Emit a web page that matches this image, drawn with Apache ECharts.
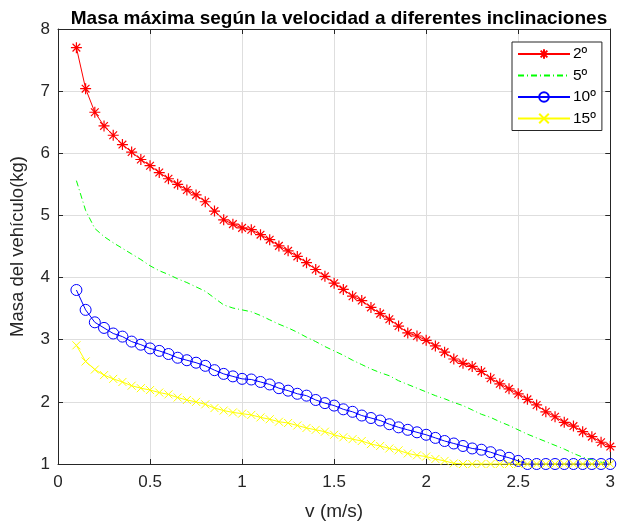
<!DOCTYPE html>
<html>
<head>
<meta charset="utf-8">
<script src="https://cdn.jsdelivr.net/npm/echarts@6/dist/echarts.min.js"></script>
<style>
html,body{margin:0;padding:0;background:#fff;}
#chart{width:618px;height:526px;}
</style>
</head>
<body>
<div id="chart"></div>
<script>
// velocities (m/s)
const velocity = [0.10,0.15,0.20,0.25,0.30,0.35,0.40,0.45,0.50,0.55,0.60,0.65,0.70,0.75,0.80,0.85,0.90,0.95,1.00,
  1.05,1.10,1.15,1.20,1.25,1.30,1.35,1.40,1.45,1.50,
  1.55,1.60,1.65,1.70,1.75,1.80,1.85,1.90,1.95,2.00,
  2.05,2.10,2.15,2.20,2.25,2.30,2.35,2.40,2.45,2.50,
  2.55,2.60,2.65,2.70,2.75,2.80,2.85,2.90,2.95,3.00];
const seriesNames = ['2º','5º','10º','15º'];
const mass2 = [7.70,7.04,6.66,6.44,6.29,6.14,6.02,5.90,5.80,5.69,5.59,5.50,5.41,5.33,5.22,5.07,4.93,4.86,4.80,
  4.77,4.69,4.61,4.51,4.43,4.34,4.24,4.13,4.02,3.91,
  3.81,3.70,3.63,3.52,3.42,3.33,3.22,3.11,3.06,2.99,
  2.90,2.80,2.69,2.62,2.57,2.49,2.38,2.29,2.21,2.13,
  2.04,1.95,1.84,1.76,1.67,1.61,1.52,1.44,1.35,1.28];
const mass5 = [5.56,5.08,4.79,4.66,4.56,4.47,4.38,4.29,4.19,4.11,4.05,3.98,3.92,3.85,3.78,3.67,3.56,3.51,3.48,
  3.45,3.39,3.32,3.25,3.19,3.12,3.04,2.97,2.89,2.82,
  2.75,2.67,2.60,2.53,2.47,2.42,2.34,2.28,2.22,2.16,
  2.10,2.05,1.99,1.94,1.87,1.80,1.75,1.68,1.62,1.55,
  1.48,1.42,1.36,1.30,1.24,1.17,1.11,1.07,1.03,1.00];
const mass10 = [3.80,3.48,3.28,3.19,3.10,3.05,2.97,2.92,2.86,2.82,2.77,2.71,2.67,2.63,2.58,2.51,2.45,2.41,2.37,
  2.36,2.32,2.28,2.22,2.18,2.13,2.10,2.03,1.98,1.94,
  1.88,1.84,1.78,1.74,1.70,1.64,1.59,1.55,1.51,1.47,
  1.42,1.37,1.33,1.29,1.25,1.23,1.19,1.14,1.10,1.05,
  1.00,1.00,1.00,1.00,1.00,1.00,1.00,1.00,1.00,1.00];
const mass15 = [2.91,2.65,2.52,2.43,2.37,2.32,2.26,2.22,2.19,2.15,2.12,2.07,2.03,2.00,1.96,1.90,1.86,1.83,1.81,
  1.79,1.75,1.72,1.68,1.66,1.62,1.58,1.55,1.52,1.47,
  1.43,1.40,1.37,1.32,1.29,1.25,1.22,1.17,1.14,1.12,
  1.08,1.05,1.01,1.00,1.00,1.00,1.00,1.00,1.00,1.00,
  1.00,1.00,1.00,1.00,1.00,1.00,1.00,1.00,1.00,1.00];
const xTicks = [0,0.5,1,1.5,2,2.5,3];
const yTicks = [1,2,3,4,5,6,7,8];

function pairs(vals){ return velocity.map((v,i)=>[v, vals[i]]); }

const FONT = 'Liberation Sans, Arial, Helvetica, sans-serif';
const AX = '#262626';
const chart = echarts.init(document.getElementById('chart'), null, {renderer:'canvas'});

const asterisk = 'path://M5 0L5 10M0 5L10 5M1.5 1.5L8.5 8.5M1.5 8.5L8.5 1.5';
const cross = 'path://M0 0L10 10M0 10L10 0';

function baseAxis(extra){
  return Object.assign({
    type:'value',
    axisLine:{show:true, onZero:false, lineStyle:{color:AX, width:1}},
    axisTick:{show:true, inside:true, length:5, lineStyle:{color:AX}},
    splitLine:{show:false},
    axisLabel:{show:false}
  }, extra);
}

chart.setOption({
  animation:false,
  backgroundColor:'#fff',
  textStyle:{fontFamily:FONT},
  title:{
    text:'Masa máxima según la velocidad a diferentes inclinaciones',
    left:334, top:4, textAlign:'center',
    textStyle:{fontFamily:FONT, fontSize:19, fontWeight:'bold', color:'#000'}
  },
  grid:{left:54, right:4, top:29, bottom:56, show:false},
  legend:{
    data:seriesNames,
    orient:'vertical',
    left:512, top:42,
    itemWidth:52, itemHeight:12, itemGap:5.5,
    padding:[4,6,4,5],
    borderColor:'#262626', borderWidth:1, backgroundColor:'#fff',
    selectedMode:false,
    textStyle:{fontFamily:FONT, fontSize:15.5, color:'#000', padding:[0,0,0,-2]}
  },
  xAxis:[
    baseAxis({
      min:0, max:3, interval:0.5, position:'bottom',
      name:'v (m/s)', nameLocation:'middle', nameGap:38,
      nameTextStyle:{fontFamily:FONT, fontSize:19, color:AX},
      axisLabel:{show:true, fontSize:17, color:AX, margin:10, fontFamily:FONT,
        formatter:function(v){ return xTicks.indexOf(v)>=0 ? String(v) : ''; }},
      splitLine:{show:true, lineStyle:{color:'#dedede', width:1}}
    }),
    baseAxis({min:0, max:3, interval:0.5, position:'top'})
  ],
  yAxis:[
    baseAxis({
      min:1, max:8, interval:1, position:'left',
      name:'Masa del vehículo(kg)', nameLocation:'middle', nameGap:31,
      nameTextStyle:{fontFamily:FONT, fontSize:18.5, color:AX},
      axisLabel:{show:true, fontSize:17, color:AX, margin:8, fontFamily:FONT,
        formatter:function(v){ return yTicks.indexOf(v)>=0 ? String(v) : ''; }},
      splitLine:{show:true, lineStyle:{color:'#dedede', width:1}}
    }),
    baseAxis({min:1, max:8, interval:1, position:'right'})
  ],
  series:[
    {
      name:seriesNames[0], type:'line', data:pairs(mass2), clip:false,
      symbol:asterisk, symbolSize:11, showAllSymbol:true,
      lineStyle:{color:'#ff0000', width:1},
      itemStyle:{color:'#ff0000', borderColor:'#ff0000', borderWidth:1.2},
      emphasis:{disabled:true}
    },
    {
      name:seriesNames[1], type:'line', data:pairs(mass5), clip:false,
      symbol:'circle', symbolSize:0, showSymbol:false,
      lineStyle:{color:'#00ff00', width:1, type:[6,3,1,3]},
      itemStyle:{color:'rgba(0,255,0,0)', borderColor:'rgba(0,255,0,0)', borderWidth:0},
      emphasis:{disabled:true}
    },
    {
      name:seriesNames[2], type:'line', data:pairs(mass10), clip:false,
      symbol:'circle', symbolSize:11, showAllSymbol:true,
      lineStyle:{color:'#0000ff', width:1},
      itemStyle:{color:'rgba(0,0,255,0)', borderColor:'#0000ff', borderWidth:1},
      emphasis:{disabled:true}
    },
    {
      name:seriesNames[3], type:'line', data:pairs(mass15), clip:false,
      symbol:cross, symbolSize:8, showAllSymbol:true,
      lineStyle:{color:'#ffff00', width:1},
      itemStyle:{color:'#ffff00', borderColor:'#ffff00', borderWidth:1},
      emphasis:{disabled:true}
    }
  ]
});
</script>
</body>
</html>
